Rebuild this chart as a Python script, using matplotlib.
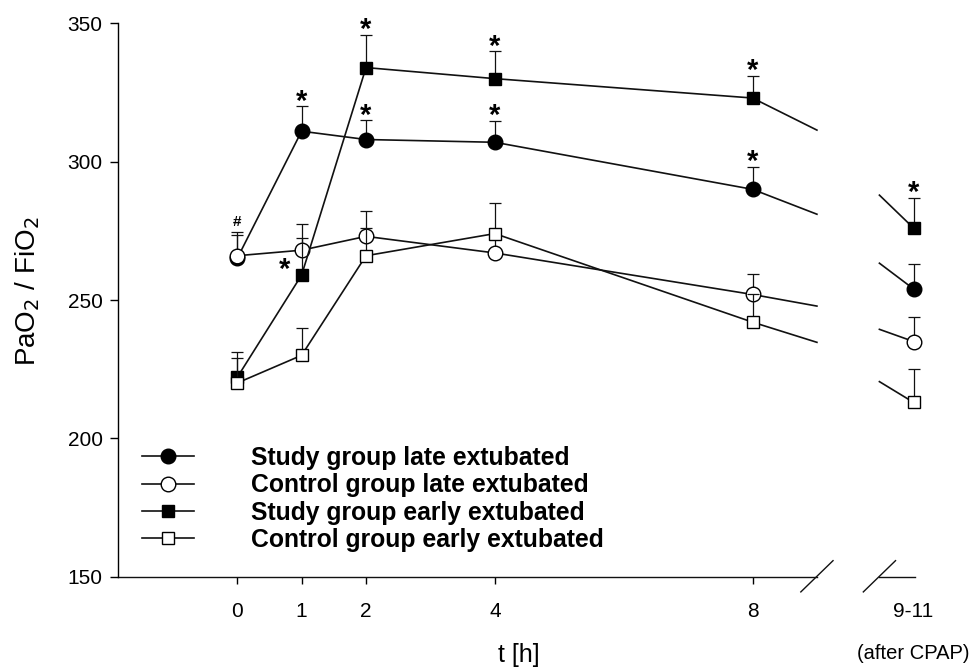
import matplotlib
matplotlib.use('Agg')
import matplotlib.pyplot as plt
import matplotlib.transforms as mtransforms
from matplotlib.lines import Line2D
import numpy as np

plt.rcParams['font.family'] = ['Liberation Sans', 'DejaVu Sans']

# -------- Data --------
time_h = [0, 1, 2, 4, 8]
after_pos = 10.5          # where the "9-11" point sits on the broken axis
break_left = 9.0          # axis cut (left side)
break_right = 9.97        # axis resumes

labels = ['Study group late extubated', 'Control group late extubated',
          'Study group early extubated', 'Control group early extubated']

study_late = [265, 311, 308, 307, 290]
control_late = [266, 268, 273, 267, 252]
study_early = [222, 259, 334, 330, 323]
control_early = [220, 230, 266, 274, 242]

study_late_err = [9.6, 9, 7, 7.8, 8.2]
control_late_err = [7.5, 9.5, 9, 6, 7.5]
study_early_err = [9.3, 13.4, 11.8, 10, 8]
control_early_err = [9, 10, 10, 11, 10]

# values after CPAP (9-11 h)
after_vals = [254, 235, 276, 213]
after_err = [9, 9, 11, 12]

# where the connecting lines are cut by the axis break
cut_left_vals = [281.0, 247.8, 311.4, 234.7]
cut_right_vals = [263.3, 239.4, 287.9, 220.5]

# significance marks: (series index, time index or 'after')
star_marks = [(0, 1), (0, 2), (0, 3), (0, 4), (2, 2), (2, 3), (2, 4), (2, 'after')]

series = [study_late, control_late, study_early, control_early]
errs = [study_late_err, control_late_err, study_early_err, control_early_err]
markers = ['o', 'o', 's', 's']
faces = ['black', 'white', 'black', 'white']
msizes = [10.5, 10.5, 9, 9]

# -------- Figure --------
fig = plt.figure(figsize=(9.71, 6.68), dpi=100)
ax = fig.add_axes([118 / 971, 1 - 576.7 / 668, 802 / 971, 553.4 / 668])
ax.set_xlim(-1.85, 10.6)
ax.set_ylim(150, 350)

for sp in ['top', 'right', 'bottom']:
    ax.spines[sp].set_visible(False)
ax.spines['left'].set_linewidth(1.0)

lc = '#111111'
handles = []
for i, (vals, err) in enumerate(zip(series, errs)):
    z = 3 + 3 * i
    xs = time_h + [after_pos]
    ys = vals + [after_vals[i]]
    es = err + [after_err[i]]
    # upper error bars only, beneath own marker
    ax.errorbar(xs, ys, yerr=[np.zeros(len(es)), es], fmt='none', ecolor=lc,
                elinewidth=0.9, capsize=4.5, capthick=0.9, zorder=z)
    # connecting lines, cut at the axis break
    ax.plot(time_h + [break_left], vals + [cut_left_vals[i]], color=lc, lw=1.2,
            zorder=z + 1, clip_on=False)
    ax.plot([break_right, after_pos], [cut_right_vals[i], after_vals[i]], color=lc,
            lw=1.2, zorder=z + 1, clip_on=False)
    ax.plot(xs, ys, ls='none', marker=markers[i], ms=msizes[i],
            mfc=faces[i], mec='black', mew=1.0, zorder=z + 2, clip_on=False)
    handles.append(Line2D([], [], color=lc, lw=1.2, marker=markers[i], ms=msizes[i],
                          mfc=faces[i], mec='black', mew=1.0))

# ---- Significance marks ----
for si, ti in star_marks:
    if ti == 'after':
        x, y = after_pos, after_vals[si] + after_err[si]
    else:
        x, y = time_h[ti], series[si][ti] + errs[si][ti]
    ax.annotate('*', (x, y), xytext=(0, -2.5), textcoords='offset points',
                ha='center', va='baseline', fontsize=21, fontweight='bold', zorder=20)
# star beside the early-study point at 1 h
ax.annotate('*', (time_h[1], study_early[1]), xytext=(-12, -2), textcoords='offset points',
            ha='center', va='baseline', fontsize=21, fontweight='bold', zorder=20)
# '#' above the 0 h point
ax.annotate('#', (time_h[0], study_late[0] + study_late_err[0]), xytext=(0, 2),
            textcoords='offset points', ha='center', va='bottom', fontsize=11,
            fontweight='bold', zorder=20)

# ---- Broken x axis ----
axis_kw = dict(color=lc, lw=1.0, clip_on=False, zorder=2)
ax.plot([ax.get_xlim()[0], break_left], [150, 150], **axis_kw)
ax.plot([break_right, 10.52], [150, 150], **axis_kw)
for bx in [break_left, break_right]:
    ax.plot([bx - 0.25, bx + 0.25], [144.5, 155.8], **axis_kw)

# ---- Ticks ----
ax.set_xticks(time_h + [after_pos])
ax.set_xticklabels([str(t) for t in time_h] + ['9-11'])
ax.set_yticks([150, 200, 250, 300, 350])
ax.tick_params(axis='x', direction='out', length=5, width=1.0, pad=13, labelsize=15)
ax.tick_params(axis='y', direction='out', length=6, width=1.0, pad=5, labelsize=15)
ax.xaxis.get_major_ticks()[-1].tick1line.set_visible(False)

trans = mtransforms.blended_transform_factory(ax.transData, ax.transAxes)
ax.text(after_pos, -0.138, '(after CPAP)', transform=trans, ha='center', va='center',
        fontsize=14.5)

ax.set_xlabel('t [h]', fontsize=18)
ax.xaxis.set_label_coords(0.5, -0.12)
ax.set_ylabel('PaO$_2$ / FiO$_2$', fontsize=20)
ax.yaxis.set_label_coords(-0.095, 0.515)

# ---- Legend ----
ax.legend(handles, labels, loc='upper left', bbox_to_anchor=(0.03, 0.236), frameon=False,
          handlelength=2.1, handletextpad=2.3, labelspacing=0.13, borderpad=0,
          borderaxespad=0, prop={'weight': 'bold', 'size': 17.8})

fig.savefig('out.png', dpi=100)
